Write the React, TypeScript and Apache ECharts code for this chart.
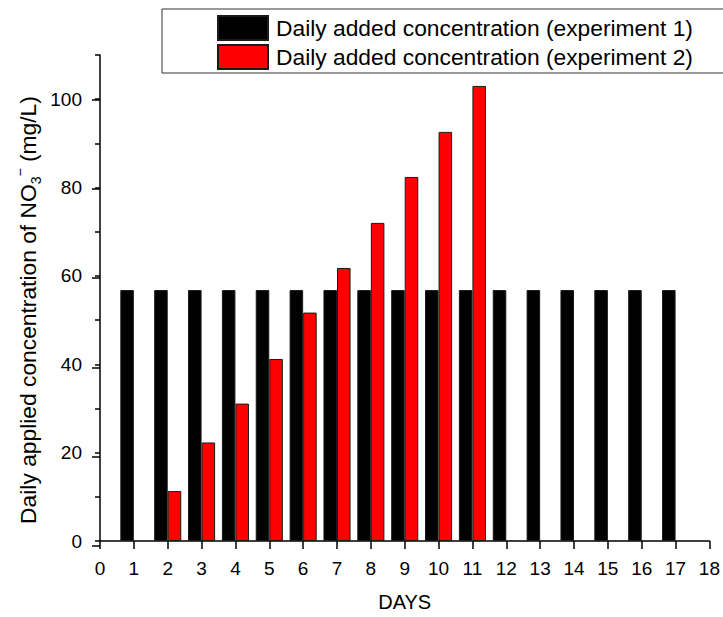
import React, { useEffect, useRef } from "react";
import * as echarts from "echarts";

const days = ["0", "1", "2", "3", "4", "5", "6", "7", "8", "9", "10", "11", "12", "13", "14", "15", "16", "17", "18"];
const exp1 = [null, 56.8, 56.8, 56.8, 56.8, 56.8, 56.8, 56.8, 56.8, 56.8, 56.8, 56.8, 56.8, 56.8, 56.8, 56.8, 56.8, 56.8, null];
const exp2 = [null, null, 11.3, 22.3, 31.1, 41.2, 51.7, 61.8, 72.0, 82.4, 92.6, 103.0, null, null, null, null, null, null, null];
const seriesNames = ["Daily added concentration (experiment 1)", "Daily added concentration (experiment 2)"];
const yTitle = "{a|Daily applied concentration of NO}{sub|3}{sup|−}{a| (mg/L)}";
const xTitle = "DAYS";

const FONT = "'Liberation Sans', Arial, sans-serif";

export default function App() {
  const ref = useRef<HTMLDivElement>(null);
  useEffect(() => {
    if (!ref.current) return;
    document.body.style.margin = "0";
    const chart = echarts.init(ref.current, null, { renderer: "svg" });
    const gridLeft = 100, gridRight = 13, gridTop = 55, gridBottom = 71;
    const plotH = 617 - gridTop - gridBottom;
    const top2 = 617 - gridBottom - (plotH * 100) / 110;
    chart.setOption({
      animation: false,
      backgroundColor: "#ffffff",
      textStyle: { fontFamily: FONT },
      grid: [
        { left: gridLeft, right: gridRight, top: gridTop, bottom: gridBottom },
        { left: gridLeft, right: gridRight, top: top2, bottom: gridBottom },
      ],
      legend: {
        orient: "vertical",
        left: 162,
        top: 9,
        padding: [6, 80, 3, 55],
        itemWidth: 50,
        itemHeight: 24,
        itemGap: 3,
        borderColor: "#333",
        borderWidth: 1,
        icon: "rect",
        textStyle: { fontSize: 22.8, color: "#000", fontFamily: FONT, padding: [0, 0, 0, 3] },
        data: seriesNames,
      },
      xAxis: [
        {
          type: "category",
          gridIndex: 0,
          data: days,
          boundaryGap: false,
          name: xTitle,
          nameLocation: "middle",
          nameGap: 51,
          nameTextStyle: { fontSize: 20, color: "#000", fontFamily: FONT },
          axisLine: { show: true, lineStyle: { color: "#000", width: 1.5 } },
          axisTick: { show: true, length: 8, inside: false, interval: 0, lineStyle: { color: "#000", width: 1.5 } },
          axisLabel: { interval: 0, fontSize: 19, color: "#000", margin: 18, fontFamily: FONT },
          splitLine: { show: false },
        },
        { type: "value", gridIndex: 1, show: false, min: 0, max: 18 },
      ],
      yAxis: [
        {
          type: "value",
          gridIndex: 0,
          min: 0,
          max: 110,
          interval: 10,
          axisLine: { show: true, lineStyle: { color: "#000", width: 1.5 } },
          axisTick: { show: true, length: 5, inside: false, lineStyle: { color: "#000", width: 1.5 } },
          axisLabel: {
            fontSize: 19,
            color: "#000",
            margin: 18,
            fontFamily: FONT,
            formatter: (v: number) => (v % 20 === 0 && v <= 100 ? String(v) : ""),
          },
          splitLine: { show: false },
        },
        {
          type: "value",
          gridIndex: 1,
          min: 0,
          max: 100,
          interval: 20,
          axisLine: { show: false },
          axisTick: { show: true, length: 8, inside: false, lineStyle: { color: "#000", width: 1.5 } },
          axisLabel: { show: false },
          splitLine: { show: false },
        },
      ],
      series: [
        {
          name: seriesNames[0],
          type: "bar",
          xAxisIndex: 0,
          yAxisIndex: 0,
          data: exp1,
          barWidth: "40%",
          barGap: "0%",
          itemStyle: { color: "#000000", borderColor: "#1a1a1a", borderWidth: 1 },
        },
        {
          name: seriesNames[1],
          type: "bar",
          xAxisIndex: 0,
          yAxisIndex: 0,
          data: exp2,
          barWidth: "40%",
          barGap: "0%",
          itemStyle: { color: "#ff0000", borderColor: "#1a1a1a", borderWidth: 1 },
        },
      ],
      graphic: [
        {
          type: "text",
          x: 28,
          y: 310,
          rotation: Math.PI / 2,
          style: {
            text: yTitle,
            align: "center",
            verticalAlign: "middle",
            fill: "#000",
            rich: {
              a: { fontSize: 22.8, fontFamily: FONT, fill: "#000", lineHeight: 30 },
              sub: { fontSize: 14, fontFamily: FONT, fill: "#000", verticalAlign: "bottom", lineHeight: 14 },
              sup: { fontSize: 14, fontFamily: FONT, fill: "#000", verticalAlign: "top", lineHeight: 14 },
            },
          },
        },
      ],
    });
    return () => chart.dispose();
  }, []);
  return <div ref={ref} style={{ width: 723, height: 617 }} />;
}
